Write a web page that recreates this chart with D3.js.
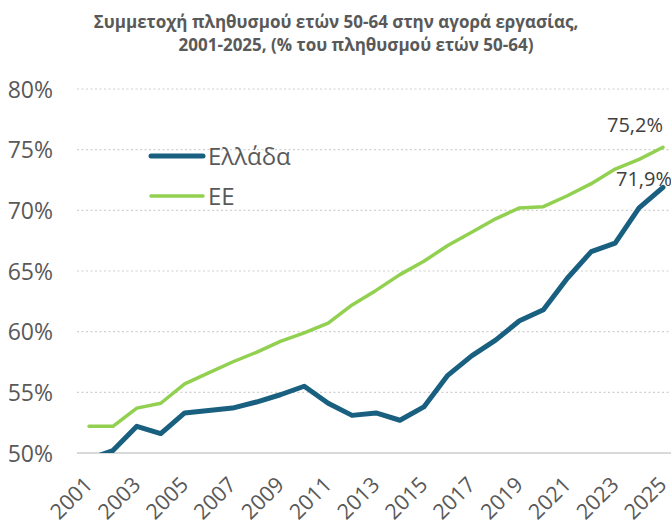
<!DOCTYPE html>
<html>
<head>
<meta charset="utf-8">
<script src="https://cdn.jsdelivr.net/npm/d3@7"></script>
<style>
  body { margin: 0; background: #fff; }
  text { font-family: "Open Sans", sans-serif; }
</style>
</head>
<body>
<div id="chart"></div>
<script>
// Chart data
var years = d3.range(2001, 2026);
var greece = [49.5, 50.2, 52.2, 51.6, 53.3, 53.5, 53.7, 54.2, 54.8, 55.5, 54.1, 53.1, 53.3, 52.7,
              53.8, 56.4, 58.0, 59.3, 60.9, 61.8, 64.4, 66.6, 67.3, 70.2, 71.9];
var eu = [52.2, 52.2, 53.7, 54.1, 55.7, 56.6, 57.5, 58.3, 59.2, 59.9, 60.7, 62.2, 63.4, 64.7,
          65.8, 67.1, 68.2, 69.3, 70.2, 70.3, 71.2, 72.2, 73.4, 74.2, 75.2];
var yTicks = [50, 55, 60, 65, 70, 75, 80];
var xTickYears = years.filter(function(y) { return (y - 2001) % 2 === 0; });
var titleLines = ["Συμμετοχή πληθυσμού ετών 50-64 στην αγορά εργασίας,",
                  "2001-2025, (% του πληθυσμού ετών 50-64)"];
var seriesNames = ["Ελλάδα", "ΕΕ"];
var colors = ["#185f80", "#92d050"];

var width = 671, height = 527;

var svg = d3.select("#chart").append("svg")
  .attr("width", width)
  .attr("height", height);

var x = d3.scalePoint()
  .domain(years)
  .range([89, 663]);

var y = d3.scaleLinear()
  .domain([50, 80])
  .range([453, 89]);

// title (second line sits a bit to the right, as in the original)
svg.append("g").selectAll("text")
  .data(titleLines)
  .enter().append("text")
    .attr("x", function(d, i) { return i === 0 ? 336 : 356; })
    .attr("y", function(d, i) { return 28 + i * 23; })
    .attr("text-anchor", "middle")
    .attr("font-size", 17)
    .attr("font-weight", "bold")
    .attr("fill", "#595959")
    .text(function(d) { return d; });

// gridlines
svg.append("g").selectAll("line")
  .data(yTicks.filter(function(d) { return d > 50; }))
  .enter().append("line")
    .attr("x1", 77).attr("x2", width)
    .attr("y1", function(d) { return y(d); })
    .attr("y2", function(d) { return y(d); })
    .attr("stroke", "#d0d0d0")
    .attr("stroke-width", 1.2)
    .attr("stroke-dasharray", "2,2.5");

svg.append("line")
  .attr("x1", 77).attr("x2", width)
  .attr("y1", y(50)).attr("y2", y(50))
  .attr("stroke", "#d9d9d9")
  .attr("stroke-width", 2);

// y labels
svg.append("g").selectAll("text")
  .data(yTicks)
  .enter().append("text")
    .attr("x", 53)
    .attr("y", function(d) { return y(d) + 8.5; })
    .attr("text-anchor", "end")
    .attr("font-size", 23)
    .attr("fill", "#595959")
    .text(function(d) { return d + "%"; });

// x labels
svg.append("g").selectAll("text")
  .data(xTickYears)
  .enter().append("text")
    .attr("text-anchor", "end")
    .attr("font-size", 21.5)
    .attr("fill", "#595959")
    .attr("transform", function(d) {
      return "translate(" + (x(d) + 5) + ",486) rotate(-45)";
    })
    .text(function(d) { return d; });

// clip the plot area
svg.append("clipPath").attr("id", "plot-clip")
  .append("rect")
    .attr("x", 77).attr("y", 60)
    .attr("width", width - 77).attr("height", y(50) - 60);

var line = d3.line()
  .x(function(d, i) { return x(years[i]); })
  .y(function(d) { return y(d); });

var plot = svg.append("g").attr("clip-path", "url(#plot-clip)");

plot.append("path")
  .datum(eu)
  .attr("fill", "none")
  .attr("stroke", colors[1])
  .attr("stroke-width", 3.5)
  .attr("stroke-linejoin", "round")
  .attr("stroke-linecap", "round")
  .attr("d", line);

plot.append("path")
  .datum(greece)
  .attr("fill", "none")
  .attr("stroke", colors[0])
  .attr("stroke-width", 5)
  .attr("stroke-linejoin", "round")
  .attr("stroke-linecap", "round")
  .attr("d", line);

// end labels
var fmt = function(v) { return d3.format(".1f")(v).replace(".", ",") + "%"; };

svg.append("text")
  .attr("x", x(2025))
  .attr("y", y(eu[eu.length - 1]) - 15)
  .attr("text-anchor", "end")
  .attr("font-size", 20)
  .attr("fill", "#404040")
  .text(fmt(eu[eu.length - 1]));

svg.append("text")
  .attr("x", x(2025) + 9)
  .attr("y", y(greece[greece.length - 1]) - 1)
  .attr("text-anchor", "end")
  .attr("font-size", 20)
  .attr("fill", "#404040")
  .text(fmt(greece[greece.length - 1]));

// legend
var legend = svg.append("g").selectAll("g")
  .data(seriesNames)
  .enter().append("g")
    .attr("transform", function(d, i) { return "translate(151," + (156 + i * 40) + ")"; });

legend.append("line")
  .attr("x1", 0).attr("x2", 52)
  .attr("stroke", function(d, i) { return colors[i]; })
  .attr("stroke-width", function(d, i) { return i === 0 ? 5 : 3.5; })
  .attr("stroke-linecap", "round");

legend.append("text")
  .attr("x", 57)
  .attr("y", 9)
  .attr("font-size", 24)
  .attr("fill", "#595959")
  .text(function(d) { return d; });
</script>
</body>
</html>
